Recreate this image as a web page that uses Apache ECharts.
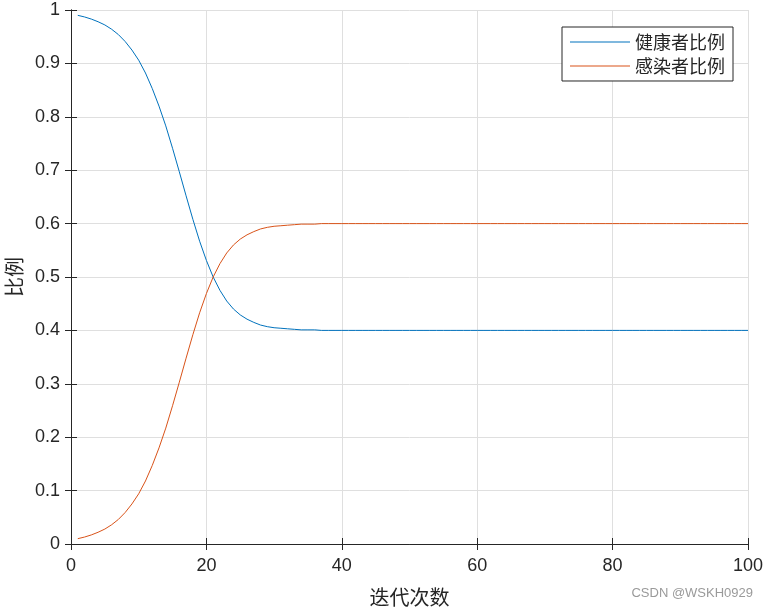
<!DOCTYPE html>
<html><head><meta charset="utf-8">
<script src="https://cdn.jsdelivr.net/npm/echarts@6/dist/echarts.min.js"></script>
<style>html,body{margin:0;padding:0;background:#fff}#c{width:768px;height:610px}</style>
</head><body><div id="c"></div>
<script>
const iterations = Array.from({length:100},(_, k)=>k+1);
const healthy = [0.990,0.987,0.983,0.978,0.972,0.964,0.954,0.941,0.925,0.906,0.882,0.853,0.820,0.783,0.741,0.697,0.652,0.608,0.567,0.531,0.500,0.475,0.455,0.440,0.429,0.421,0.415,0.410,0.407,0.405,0.404,0.403,0.402,0.401,0.401,0.401,
0.400,0.400,0.400,0.400,0.400,0.400,0.400,0.400,0.400,0.400,0.400,0.400,0.400,0.400,0.400,0.400,0.400,0.400,0.400,0.400,0.400,0.400,0.400,0.400,0.400,0.400,0.400,0.400,
0.400,0.400,0.400,0.400,0.400,0.400,0.400,0.400,0.400,0.400,0.400,0.400,0.400,0.400,0.400,0.400,0.400,0.400,0.400,0.400,0.400,0.400,0.400,0.400,0.400,0.400,0.400,0.400,0.400,0.400,0.400,0.400,0.400,0.400,0.400,0.400];
const infected = [0.010,0.013,0.017,0.022,0.028,0.036,0.046,0.059,0.075,0.094,0.118,0.147,0.180,0.217,0.259,0.303,0.348,0.392,0.433,0.469,0.500,0.525,0.545,0.560,0.571,0.579,0.585,0.590,0.593,0.595,0.596,0.597,0.598,0.599,0.599,0.599,
0.600,0.600,0.600,0.600,0.600,0.600,0.600,0.600,0.600,0.600,0.600,0.600,0.600,0.600,0.600,0.600,0.600,0.600,0.600,0.600,0.600,0.600,0.600,0.600,0.600,0.600,0.600,0.600,
0.600,0.600,0.600,0.600,0.600,0.600,0.600,0.600,0.600,0.600,0.600,0.600,0.600,0.600,0.600,0.600,0.600,0.600,0.600,0.600,0.600,0.600,0.600,0.600,0.600,0.600,0.600,0.600,0.600,0.600,0.600,0.600,0.600,0.600,0.600,0.600];
const seriesNames = ['健康者比例','感染者比例'];
const xTitle = '迭代次数';
const yTitle = '比例';

const FONT = '"Liberation Sans", Arial, sans-serif';
const CJK = '"Noto Sans CJK SC", sans-serif';
const axisColor = '#262626';
const chart = echarts.init(document.getElementById('c'));
const baseAxis = {
  axisLine:{show:true,lineStyle:{color:axisColor,width:1}},
  axisTick:{show:true,inside:true,length:6,lineStyle:{color:axisColor}},
};
chart.setOption({
  animation:false,
  backgroundColor:'#fff',
  grid:{left:71,right:20,top:10,bottom:66,containLabel:false,outerBoundsMode:'none'},
  legend:{
    data:seriesNames, orient:'vertical', right:35, top:27,
    icon:'rect', itemWidth:60, itemHeight:1, itemGap:6,
    backgroundColor:'#fff', borderColor:axisColor, borderWidth:1,
    padding:[6,8,6,8],
    textStyle:{fontFamily:CJK,fontSize:18,color:axisColor}
  },
  xAxis:[
    Object.assign({type:'value',min:0,max:100,interval:20,position:'bottom',
      name:xTitle,nameLocation:'middle',nameGap:43,
      nameTextStyle:{fontFamily:CJK,fontSize:20,color:axisColor},
      axisLabel:{fontFamily:FONT,fontSize:18,color:axisColor,margin:13},
      splitLine:{show:true,lineStyle:{color:'#dfdfdf'}}},baseAxis),
    Object.assign({type:'value',min:0,max:100,interval:20,position:'top',
      axisLabel:{show:false},splitLine:{show:false}},baseAxis)
  ],
  yAxis:[
    Object.assign({type:'value',min:0,max:1,interval:0.1,position:'left',
      name:yTitle,nameLocation:'middle',nameGap:46,
      nameTextStyle:{fontFamily:CJK,fontSize:20,color:axisColor},
      axisLabel:{fontFamily:FONT,fontSize:18,color:axisColor,margin:11,
        formatter:v=>String(Math.round(v*10)/10)},
      splitLine:{show:true,lineStyle:{color:'#dfdfdf'}}},baseAxis),
    Object.assign({type:'value',min:0,max:1,interval:0.1,position:'right',
      axisLabel:{show:false},splitLine:{show:false}},baseAxis)
  ],
  series:[
    {name:seriesNames[0],type:'line',showSymbol:false,symbol:'none',
     data:iterations.map((x,i)=>[x,healthy[i]]),
     lineStyle:{color:'#0072BD',width:1},itemStyle:{color:'#0072BD'}},
    {name:seriesNames[1],type:'line',showSymbol:false,symbol:'none',
     data:iterations.map((x,i)=>[x,infected[i]]),
     lineStyle:{color:'#D95319',width:1},itemStyle:{color:'#D95319'}}
  ],
  graphic:[{type:'text',right:15,top:587,style:{text:'CSDN @WSKH0929',fill:'#9a9a9a',fontFamily:FONT,fontSize:13}}]
});
</script></body></html>
